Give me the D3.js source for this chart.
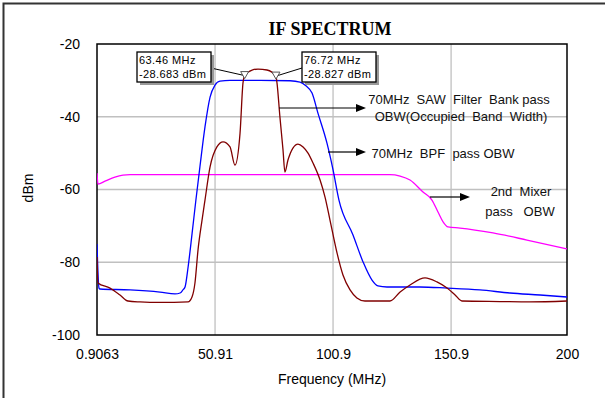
<!DOCTYPE html>
<html><head><meta charset="utf-8">
<script src="https://cdn.jsdelivr.net/npm/d3@7"></script>
<style>body{margin:0;background:#fff;}svg{display:block;}</style>
</head><body><svg id="c" width="605" height="398"></svg>
<script>
const xTicks = [0.9063, 50.91, 100.9, 150.9, 200];
const yTicks = [-20, -40, -60, -80, -100];
const sawFreq = [0.91,1.75,2.18,14.9,27.6,33.95,36.1,37.3,38.2,39.5,41.2,42.8,44.5,46.65,48.8,50.9,53.0,57.25,69.95,82.7,86.9,89.4,92.0,94.5,98.3,100.9,103.4,109.35,113.6,117.4,119.9,123.75,137.7,149.2,163.1,175.85,188.6,200];
const sawDb = [-75.0,-87.1,-87.35,-87.6,-88.2,-88.7,-88.45,-87.6,-86.8,-81.3,-72.0,-62.9,-53.8,-42.8,-34.6,-31.3,-30.2,-30.0,-30.0,-30.1,-30.45,-31.5,-33.5,-39.0,-47.2,-54.6,-62.9,-72.5,-79.9,-84.9,-86.5,-86.8,-86.8,-87.1,-87.6,-88.45,-89.0,-89.55];
const bpfFreq = [0.91,1.33,6.41,10.65,14.04,19.1,27.6,39.45,41.15,42.4,43.7,45.4,46.65,48.8,51.7,54.3,57.25,59.35,61.5,62.75,63.46,66.6,69.1,72.9,76.72,77.15,78.4,79.7,80.5,81.8,83.9,86.05,88.2,90.3,92.4,95.4,97.5,99.6,102.6,105.1,108.1,111.0,114.4,125.0,129.3,133.5,139.85,144.9,149.2,152.6,155.5,171.6,184.3,200];
const bpfDb = [-78.55,-85.7,-87.1,-89.0,-90.65,-90.9,-91.05,-90.9,-89.55,-85.7,-76.6,-68.4,-62.9,-53.8,-48.3,-46.9,-48.3,-53.3,-44.5,-30.7,-28.68,-27.15,-26.9,-27.15,-28.83,-30.7,-40.1,-49.1,-55.2,-51.9,-48.6,-47.5,-48.3,-50.0,-52.7,-57.4,-62.1,-68.4,-77.5,-83.5,-87.6,-89.8,-90.65,-90.65,-88.2,-86.25,-84.3,-85.4,-87.1,-89.0,-90.65,-90.8,-90.9,-90.65];
const mixFreq = [0.91,1.33,4.3,8.5,11.9,14.9,125.0,129.3,133.5,139.0,142.8,145.35,147.5,149.6,154.7,168.65,183.05,200];
const mixDb = [-55.5,-58.5,-57.7,-56.6,-56.05,-55.9,-55.9,-56.3,-57.4,-60.7,-62.9,-66.2,-68.9,-70.3,-70.6,-71.95,-73.9,-76.35];
const markerFreq = [63.46, 76.72];
const markerDb = [-28.683, -28.827];
const markerLabels = [["63.46 MHz","-28.683 dBm"],["76.72 MHz","-28.827 dBm"]];

const svg = d3.select("#c");
const L=97,R=567,T=44,B=335;
const x = d3.scaleLinear().domain([0.9063,200]).range([L,R]);
const y = d3.scaleLinear().domain([-100,-20]).range([B,T]);
const font = "'Liberation Sans', Arial, sans-serif";

// outer frame
svg.append("path").attr("d","M3.5,398 V3.5 H605").attr("fill","none").attr("stroke","#333").attr("stroke-width",2);

// title
svg.append("text").attr("x",330).attr("y",35).attr("text-anchor","middle")
  .attr("font-family","'Liberation Serif', 'Times New Roman', serif").attr("font-weight","bold").attr("font-size",18)
  .text("IF SPECTRUM");

// grid
const g = svg.append("g");
g.selectAll(".gx").data(xTicks.slice(1,-1)).enter().append("line")
  .attr("x1",d=>x(d)).attr("x2",d=>x(d)).attr("y1",T).attr("y2",B).attr("stroke","#c0c0c0").attr("stroke-width",1.3);
g.selectAll(".gy").data(yTicks.slice(1,-1)).enter().append("line")
  .attr("y1",d=>y(d)).attr("y2",d=>y(d)).attr("x1",L).attr("x2",R).attr("stroke","#c0c0c0").attr("stroke-width",1.3);

// axes labels
const xa = d3.axisBottom(x).tickValues(xTicks).tickFormat((d,i)=>["0.9063","50.91","100.9","150.9","200"][i]).tickSize(0).tickPadding(14);
const xg = svg.append("g").attr("transform",`translate(0,${B})`).call(xa);
const ya = d3.axisLeft(y).tickValues(yTicks).tickFormat(d=>d).tickSize(0).tickPadding(17);
const yg = svg.append("g").attr("transform",`translate(${L},0)`).call(ya);
[xg,yg].forEach(a=>{a.select(".domain").remove();a.selectAll("text").attr("font-family",font).attr("font-size",14).attr("fill","#000");});

svg.append("text").attr("x",332).attr("y",384).attr("text-anchor","middle").attr("font-family",font).attr("font-size",14).text("Frequency (MHz)");
svg.append("text").attr("transform","translate(33,188) rotate(-90)").attr("text-anchor","middle").attr("font-family",font).attr("font-size",14).text("dBm");

// plot border
svg.append("rect").attr("x",L).attr("y",T).attr("width",R-L).attr("height",B-T).attr("fill","none").attr("stroke","#000").attr("stroke-width",1.5);

// curves
const line = d3.line().x(d=>x(d[0])).y(d=>y(d[1])).curve(d3.curveMonotoneX);
svg.append("clipPath").attr("id","pc").append("rect").attr("x",L).attr("y",T).attr("width",R-L).attr("height",B-T);
const cg = svg.append("g").attr("clip-path","url(#pc)");
cg.append("path").datum(mixFreq.map((f,i)=>[f,mixDb[i]])).attr("d",line).attr("fill","none").attr("stroke","#ff00ff").attr("stroke-width",1.3);
cg.append("path").datum(sawFreq.map((f,i)=>[f,sawDb[i]])).attr("d",line).attr("fill","none").attr("stroke","#0000ff").attr("stroke-width",1.3);
cg.append("path").datum(bpfFreq.map((f,i)=>[f,bpfDb[i]])).attr("d",line).attr("fill","none").attr("stroke","#800000").attr("stroke-width",1.3);

// markers & label boxes
const boxes = [{x:137,y:52},{x:302,y:52}];
markerFreq.forEach((f,i)=>{
  const mx=x(f), my=y(markerDb[i]);
  const b=boxes[i], bw=74, bh=30;
  const lx = i===0? b.x+bw : b.x;
  svg.append("line").attr("x1",lx).attr("y1",b.y+16).attr("x2",mx).attr("y2",my).attr("stroke","#000").attr("stroke-width",1);
  svg.append("path").attr("d",`M${mx-4},${my-4}L${mx+4},${my-4}L${mx},${my+3}Z`).attr("fill","#fff").attr("stroke","#555").attr("stroke-width",1);
  svg.append("rect").attr("x",b.x+3).attr("y",b.y+3).attr("width",bw).attr("height",bh).attr("fill","#999");
  svg.append("rect").attr("x",b.x).attr("y",b.y).attr("width",bw).attr("height",bh).attr("fill","#fff").attr("stroke","#000").attr("stroke-width",1.3);
  markerLabels[i].forEach((t,j)=>svg.append("text").attr("x",b.x+2).attr("y",b.y+12+j*14).attr("font-family",font).attr("font-size",11).attr("letter-spacing",0.4).text(t));
});

// annotation arrows
const arrows = [[279,108,366,108],[328,152,366,152],[430,197,470,197]];
arrows.forEach(a=>{
  svg.append("line").attr("x1",a[0]).attr("y1",a[1]).attr("x2",a[2]-8).attr("y2",a[3]).attr("stroke","#000").attr("stroke-width",1.2);
  svg.append("path").attr("d",`M${a[2]},${a[3]}L${a[2]-10},${a[3]-4}L${a[2]-10},${a[3]+4}Z`).attr("fill","#000");
});
const notes = [[459,104,"70MHz  SAW  Filter  Bank pass"],[461,121,"OBW(Occupied  Band  Width)"],[443,158,"70MHz  BPF  pass OBW"],[521,196,"2nd  Mixer"],[520,216,"pass   OBW"]];
notes.forEach(n=>svg.append("text").attr("x",n[0]).attr("y",n[1]).attr("text-anchor","middle").attr("font-family",font).attr("font-size",13).attr("fill","#111").style("white-space","pre").text(n[2]));
</script></body></html>
